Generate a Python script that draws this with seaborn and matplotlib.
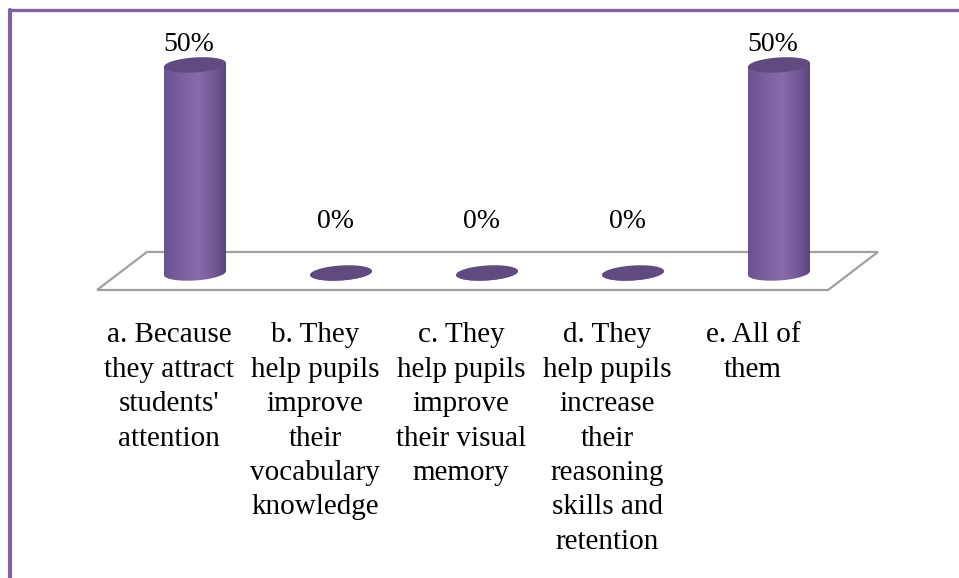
import numpy as np
import matplotlib
matplotlib.use("Agg")
import matplotlib.pyplot as plt
from matplotlib.patches import Polygon
from matplotlib.lines import Line2D
import seaborn as sns

# -------------------- Data --------------------
categories = [
    "a. Because\nthey attract\nstudents'\nattention",
    "b. They\nhelp pupils\nimprove\ntheir\nvocabulary\nknowledge",
    "c. They\nhelp pupils\nimprove\ntheir visual\nmemory",
    "d. They\nhelp pupils\nincrease\ntheir\nreasoning\nskills and\nretention",
    "e. All of\nthem",
]
percentages = [50, 0, 0, 0, 50]
value_labels = ["50%", "0%", "0%", "0%", "50%"]

# -------------------- Style --------------------
sns.set_theme(style="white")
plt.rcParams["font.family"] = ["Liberation Serif", "DejaVu Serif"]

PURPLE = "#8064a2"
TOP_COLOR = "#5f4b7f"
FLOOR_COLOR = "#a0a0a0"
BAR_W = 0.425      # cylinder width in category units
RY = 1.8           # half height of the cylinder ellipses (in % units)
TILT = 2.2         # slight perspective tilt of the ellipses

# horizontal shading across a cylinder (dark edge -> light centre -> dark edge)
grad_pos = [0.0, 0.25, 0.55, 0.85, 1.0]
grad_cols = ["#6a5290", "#7a5f9f", "#8a6bab", "#6c5490", "#584578"]


def hex_rgb(h):
    h = h.lstrip("#")
    return [int(h[i:i + 2], 16) / 255 for i in (0, 2, 4)]


def gradient_image(n=200):
    t = np.linspace(0, 1, n)
    rgb = np.array([hex_rgb(c) for c in grad_cols])
    img = np.stack([np.interp(t, grad_pos, rgb[:, k]) for k in range(3)], axis=-1)
    return img[np.newaxis, :, :]


def ellipse_pts(cx, cy, hw, t):
    x = cx + hw * np.cos(t)
    y = cy + RY * np.sin(t) + TILT * (x - cx)
    return np.column_stack([x, y])


# -------------------- Plot --------------------
fig = plt.figure(figsize=(9.59, 5.78), dpi=100)
ax = fig.add_axes([0, 0, 1, 1])

# floor of the 3-D chart
floor = Polygon([(-0.671, -4.09), (4.336, -4.09), (4.678, 5.05), (-0.329, 5.05)],
                closed=True, facecolor="white", edgecolor=FLOOR_COLOR, lw=1.6, zorder=1)
ax.add_patch(floor)

sns.barplot(x=categories, y=percentages, width=BAR_W, color=grad_cols[2],
            saturation=1, ax=ax, zorder=2)

img = gradient_image()
for bar in ax.patches:
    if not isinstance(bar, matplotlib.patches.Rectangle):
        continue
    x0 = bar.get_x()
    hw = bar.get_width() / 2
    cx = x0 + hw
    top = bar.get_height()
    bar.set_visible(False)

    # body: left side, lower half of the base ellipse, right side
    base = ellipse_pts(cx, 0, hw, np.linspace(np.pi, 2 * np.pi, 60))
    body_pts = np.vstack([[cx - hw, top - TILT * hw], base, [cx + hw, top + TILT * hw]])
    body = Polygon(body_pts, closed=True, facecolor="none", edgecolor="none")
    ax.add_patch(body)
    im = ax.imshow(img, extent=[cx - hw, cx + hw, -RY - TILT * hw - 1, top + TILT * hw + 1],
                   aspect="auto", zorder=3, interpolation="bilinear")
    im.set_clip_path(body)

    # top of the cylinder
    cap = Polygon(ellipse_pts(cx, top, hw, np.linspace(0, 2 * np.pi, 80)),
                  closed=True, facecolor=TOP_COLOR, edgecolor="none", zorder=4)
    ax.add_patch(cap)

# value labels
for i, (v, lab) in enumerate(zip(percentages, value_labels)):
    y = v + 4.8 if v > 0 else 12.3
    ax.text(i - 0.04, y, lab, ha="center", va="center", fontsize=20, color="black", zorder=5)

# category labels under the floor
for i, cat in enumerate(categories):
    ax.text(i - 0.178, -11.9, cat, ha="center", va="top", fontsize=21,
            linespacing=1.42, color="black", zorder=5)

ax.set_xlim(-1.3356, 5.2329)
ax.set_ylim(-73.3, 65.6)
ax.set_axis_off()

# purple frame (top and left edges visible)
fig.add_artist(Line2D([9.5 / 959, 1], [1 - 9.5 / 578] * 2, transform=fig.transFigure,
                      color=PURPLE, lw=2.4))
fig.add_artist(Line2D([9.5 / 959] * 2, [0, 1 - 9.5 / 578], transform=fig.transFigure,
                      color=PURPLE, lw=3.0))

fig.savefig("out.png", dpi=100, facecolor="white")
plt.close(fig)
